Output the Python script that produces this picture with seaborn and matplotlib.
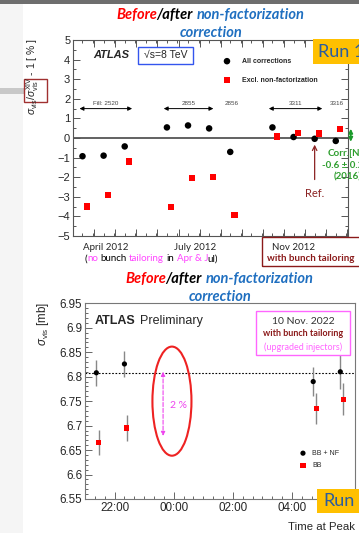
import numpy as np
import pandas as pd
import seaborn as sns
import matplotlib.pyplot as plt
from matplotlib.patches import Rectangle, Ellipse
from matplotlib.ticker import MultipleLocator, FixedLocator, FuncFormatter
from matplotlib.textpath import TextPath
from matplotlib.font_manager import FontProperties

# --- top panel: 2012 vdM scans (Run 1), relative to reference fill
scan_idx = [0, 1, 2, 4, 5, 6, 7, 9, 10, 11, 12]
all_corr = [-0.93, -0.90, -0.43, 0.54, 0.64, 0.49, -0.71, 0.54, 0.05, -0.04, -0.15]
excl_nf = [-3.49, -2.91, -1.20, -3.52, -2.05, -1.98, -3.93, 0.08, 0.27, 0.23, 0.45]
fills = ['Fill: 2520', '2855', '2856', '3311', '3316']
months = ['April 2012', 'July 2012', 'Nov 2012']

# --- bottom panel: 10 Nov 2022 scans
t_bbnf = ['21:23', '22:20', '04:43', '05:38']
t_bb = ['21:28', '22:25', '04:49', '05:44']
sig_bbnf = [6.808, 6.826, 6.790, 6.810]
err_bbnf = [0.027, 0.027, 0.029, 0.035]
sig_bb = [6.666, 6.695, 6.735, 6.754]
err_bb = [0.026, 0.026, 0.031, 0.033]
hour_labels = ['22:00', '00:00', '02:00', '04:00']


def to_hours(ts):
    out = []
    for t in ts:
        h, m = t.split(':')
        h = int(h) + int(m) / 60
        out.append(h + 24 if h < 12 else h)
    return out


sns.set_style('ticks')
plt.rcParams['font.family'] = ['Liberation Sans', 'DejaVu Sans']
plt.rcParams['mathtext.fontset'] = 'custom'
plt.rcParams['mathtext.rm'] = 'Liberation Sans'
plt.rcParams['mathtext.it'] = 'Liberation Sans:italic'

W, H = 359, 533
fig = plt.figure(figsize=(W / 100, H / 100), dpi=100)
fig.patch.set_facecolor('white')


def P(x, y):
    return (x / W, 1 - y / H)


def rect(x0, y0, x1, y1, **kw):
    fig.patches.append(Rectangle(P(x0, y1), (x1 - x0) / W, (y1 - y0) / H,
                                 transform=fig.transFigure, **kw))


SLIDE = ['Lato', 'DejaVu Sans']


def rich(x, y, parts, size, ha='left', **kw):
    # coloured pieces on one line, spaced by glyph advances
    k = 100 / 72

    def ext(s, fp):
        return TextPath((0, 0), s, size=size, prop=fp).get_extents()

    placed = []
    cur = 0.0
    for s, props in parts:
        props = dict(props)
        kern = props.pop('kern', 0)
        d = {**kw, **props}
        fp = FontProperties(family=d.get('family', SLIDE), weight=d.get('fontweight', 'normal'),
                            style=d.get('fontstyle', 'normal'))
        bars = ext('||', fp).width
        space = (ext('| |', fp).width - bars) * k
        core = s.strip(' ')
        cur += (len(s) - len(s.lstrip(' '))) * space + kern
        adv = (ext('|' + core + '|', fp).width - bars) * k
        lsb = ext(core, fp).x0 * k
        t = fig.text(0, 0, core, ha='left', va='center', fontsize=size, **d)
        placed.append((t, cur + lsb))
        cur += adv + (len(s) - len(s.rstrip(' '))) * space
    x0 = x - cur / 2 if ha == 'center' else x
    for t, off in placed:
        t.set_position(P(x0 + off, y))


# slide background bits
rect(0, 0, 23, H, facecolor='#f5f5f5', edgecolor='none', zorder=0)
rect(0, 0, W, 4, facecolor='#6e6e6e', edgecolor='none', zorder=0)
rect(0, 88, 24, 94, facecolor='#c8c8c8', edgecolor='none', zorder=0)

# ================= top panel =================
ax1 = fig.add_axes([73 / W, 1 - 236 / H, 275 / W, 196 / H])
sns.scatterplot(x=scan_idx, y=all_corr, ax=ax1, color='black', marker='o', s=22,
                edgecolor='none', label='All corrections', zorder=4)
sns.scatterplot(x=np.array(scan_idx) + 0.2, y=excl_nf, ax=ax1, color='#ff0000', marker='s',
                s=20, edgecolor='none', label='Excl. non-factorization', zorder=4)
ax1.axhline(0, color='#555555', lw=1.3, zorder=2)
ax1.set_xlim(-0.33, 12.58)
ax1.set_ylim(-5, 5)
ax1.set_xticks(np.arange(-0.45, 12.6, 1))
ax1.xaxis.set_minor_locator(MultipleLocator(0.5))
ax1.yaxis.set_major_locator(MultipleLocator(1))
ax1.yaxis.set_minor_locator(MultipleLocator(0.5))
ax1.tick_params(direction='in', top=True, right=True, which='both', labelbottom=False,
                color='#555555', width=0.7)
ax1.tick_params(which='major', length=5, labelsize=8, pad=2)
ax1.tick_params(which='minor', length=2.5)
for sp in ax1.spines.values():
    sp.set_color('#555555')
    sp.set_linewidth(0.8)

ax1.legend(loc='upper left', bbox_to_anchor=P(223.5, 58), bbox_transform=fig.transFigure,
           frameon=False, prop={'weight': 'bold', 'size': 5}, handlelength=1,
           handletextpad=1.6, labelspacing=1.7, borderpad=0, borderaxespad=0)

# fill arrows
arrow_spans = [(-0.14, 2.35), (3.85, 6.2), None, (8.83, 11.36), None]
label_x = [1.08, 5.02, 7.09, 10.1, 12.07]
for f, span, lx in zip(fills, arrow_spans, label_x):
    if span is not None:
        ax1.annotate('', xy=(span[1], 1.5), xytext=(span[0], 1.5),
                     arrowprops=dict(arrowstyle='<|-|>', color='black', lw=0.7, mutation_scale=6,
                                     shrinkA=0, shrinkB=0))
    ax1.text(lx, 1.75, f, fontsize=4.5, color='#444444', ha='center', va='center')

ax1.annotate('Ref.', xy=(11, -0.34), xytext=(11, -2.85), ha='center', va='center',
             fontsize=8, color='#8b2323', family=SLIDE,
             arrowprops=dict(arrowstyle='->', color='#8b2323', lw=0.9, shrinkA=4, shrinkB=0))
ax1.annotate('', xy=(12.71, 0.47), xytext=(12.71, -0.19), annotation_clip=False,
             arrowprops=dict(arrowstyle='<|-|>', color='#1a9a2a', lw=1.2, mutation_scale=6,
                             shrinkA=0, shrinkB=0))

fig.text(*P(93, 55), 'ATLAS', fontsize=8, fontweight='bold', fontstyle='italic', va='center')
fig.text(*P(165.5, 55.5), '√s=8 TeV', fontsize=7.5, va='center', ha='center')
rect(138, 47, 193, 64, facecolor='none', edgecolor='#3355ee', lw=1)

fig.text(*P(33, 76), r'$\sigma_{\rm vis}/\sigma_{\rm vis}^{\rm XIV}$ - 1 [ % ]', rotation=90,
         fontsize=7.5, ha='center', va='center')
rect(24, 79, 47, 102, facecolor='none', edgecolor='#a03030', lw=1)

# run 1 tag
rect(313, 39, 362, 64, facecolor='#ffc000', edgecolor='none')
fig.text(*P(318, 52), 'Run 1', fontsize=13, color='#2b5c9e', family=SLIDE, va='center')

# green NF correction note (runs off the slide edge as in the original)
green = '#2e9e2e'
fig.text(*P(328, 153), 'Corr.[NF]', fontsize=7, color=green, family=SLIDE, fontweight='bold', va='center')
fig.text(*P(322, 165), '-0.6 ± 0.2 %', fontsize=7, color=green, family=SLIDE, fontweight='bold', va='center')
fig.text(*P(334, 177), '(2016)', fontsize=7, color=green, family=SLIDE, fontweight='bold', va='center')

# month labels under top axis
for m, cx in zip(months, [105.5, 195.5, 293.7]):
    fig.text(*P(cx, 247), m, fontsize=7, family=SLIDE, ha='center', va='center')
mag = '#ff44ff'
rich(150.5, 259, [('(', {'color': 'black'}), ('no', {'color': mag}), (' bunch ', {'color': 'black'}),
                  ('tailoring', {'color': mag}), (' in ', {'color': 'black'}), ('Apr & J', {'color': mag}),
                  ('ul)', {'color': 'black', 'kern': -1.6})], 7, ha='center', family=SLIDE)
fig.text(*P(267, 259), 'with bunch tailoring', fontsize=7, family=SLIDE, fontweight='bold',
         color='#8b1a1a', va='center')
rect(262, 237, 362, 266, facecolor='none', edgecolor='#8b1a1a', lw=1)

# titles
tfont = dict(fontweight='bold', fontstyle='italic', family=SLIDE)
blue = '#1f6fc0'
for cx, y1, y2 in [(210, 15, 33), (219, 279, 297)]:
    rich(cx, y1, [('Before', {'color': '#ff0000'}), ('/after ', {'color': 'black'}),
                  ('non-factorization', {'color': blue})], 10.5, ha='center', **tfont)
    fig.text(*P(cx + 1, y2), 'correction', color=blue, ha='center', va='center', fontsize=10.5, **tfont)

# ================= bottom panel =================
ax2 = fig.add_axes([85 / W, 1 - 499 / H, 270 / W, 195.7 / H])
hb = to_hours(t_bbnf)
hr = to_hours(t_bb)
ax2.errorbar(hb, sig_bbnf, yerr=err_bbnf, fmt='none', ecolor='#888888', elinewidth=1, zorder=2)
ax2.errorbar(hr, sig_bb, yerr=err_bb, fmt='none', ecolor='#888888', elinewidth=1, zorder=2)
sns.scatterplot(x=hb, y=sig_bbnf, ax=ax2, color='black', marker='o', s=14, edgecolor='none',
                label='BB + NF', zorder=4)
sns.scatterplot(x=hr, y=sig_bb, ax=ax2, color='#ff0000', marker='s', s=14, edgecolor='none',
                label='BB', zorder=4)
ax2.axhline(sig_bbnf[0], color='black', lw=0.8, ls=(0, (1.5, 1.5)), zorder=1)
ax2.set_xlim(21.0, 30.13)
ax2.set_ylim(6.55, 6.95)
ax2.xaxis.set_major_locator(FixedLocator([22, 24, 26, 28]))
ax2.xaxis.set_major_formatter(FuncFormatter(lambda v, p: hour_labels[[22, 24, 26, 28].index(int(round(v)))]))
ax2.xaxis.set_minor_locator(MultipleLocator(1 / 3))
ax2.yaxis.set_major_locator(MultipleLocator(0.05))
ax2.yaxis.set_major_formatter(FuncFormatter(lambda v, p: f'{v:g}'))
ax2.yaxis.set_minor_locator(MultipleLocator(0.01))
ax2.tick_params(direction='in', which='both', color='#666666', width=0.7)
ax2.tick_params(which='major', length=5, labelsize=8.4, pad=2)
ax2.tick_params(which='minor', length=2.5)
for sp in ax2.spines.values():
    sp.set_color('#777777')
    sp.set_linewidth(0.8)

ax2.legend(loc='upper left', bbox_to_anchor=P(299.5, 450), bbox_transform=fig.transFigure,
           frameon=False, fontsize=5, handlelength=1, handletextpad=0.8, labelspacing=0.75,
           borderpad=0, borderaxespad=0)

ax2.add_patch(Ellipse((23.94, 6.75), 1.32, 0.223, facecolor='none', edgecolor='#ee2222', lw=1.5))
ax2.annotate('', xy=(23.64, 6.679), xytext=(23.64, 6.81),
             arrowprops=dict(arrowstyle='<|-|>', color='#ee44ee', lw=0.8, ls='--', mutation_scale=6,
                             shrinkA=0, shrinkB=0))
ax2.text(23.86, 6.742, '2 %', color='#ee44ee', fontsize=7.5, family=SLIDE, va='center')

fig.text(*P(95, 321), 'ATLAS', fontsize=9, fontweight='bold', va='center')
fig.text(*P(140, 321), 'Preliminary', fontsize=9, va='center')

fig.text(*P(43, 324), r'$\sigma_{\rm vis}$ [mb]', rotation=90, fontsize=8.4, ha='center', va='center')
fig.text(*P(355, 527), 'Time at Peak', fontsize=8.2, ha='right', va='center')

rect(256, 311, 350, 355, facecolor='white', edgecolor='#ff66ff', lw=1, zorder=3)
fig.text(*P(303, 321), '10 Nov. 2022', fontsize=7.5, family=SLIDE, color='#333333', ha='center', va='center', zorder=4)
fig.text(*P(303, 334), 'with bunch tailoring', fontsize=6.5, family=SLIDE, fontweight='bold',
         color='#8b1a1a', ha='center', va='center', zorder=4)
fig.text(*P(303, 347), '(upgraded injectors)', fontsize=6.5, family=SLIDE, color='#ff66ff',
         ha='center', va='center', zorder=4)

rect(317, 489, 362, 513, facecolor='#ffc000', edgecolor='none', zorder=5)
fig.text(*P(323, 501), 'Run', fontsize=13, color='#2b5c9e', family=SLIDE, va='center', zorder=6)

fig.savefig('out.png', dpi=100)
